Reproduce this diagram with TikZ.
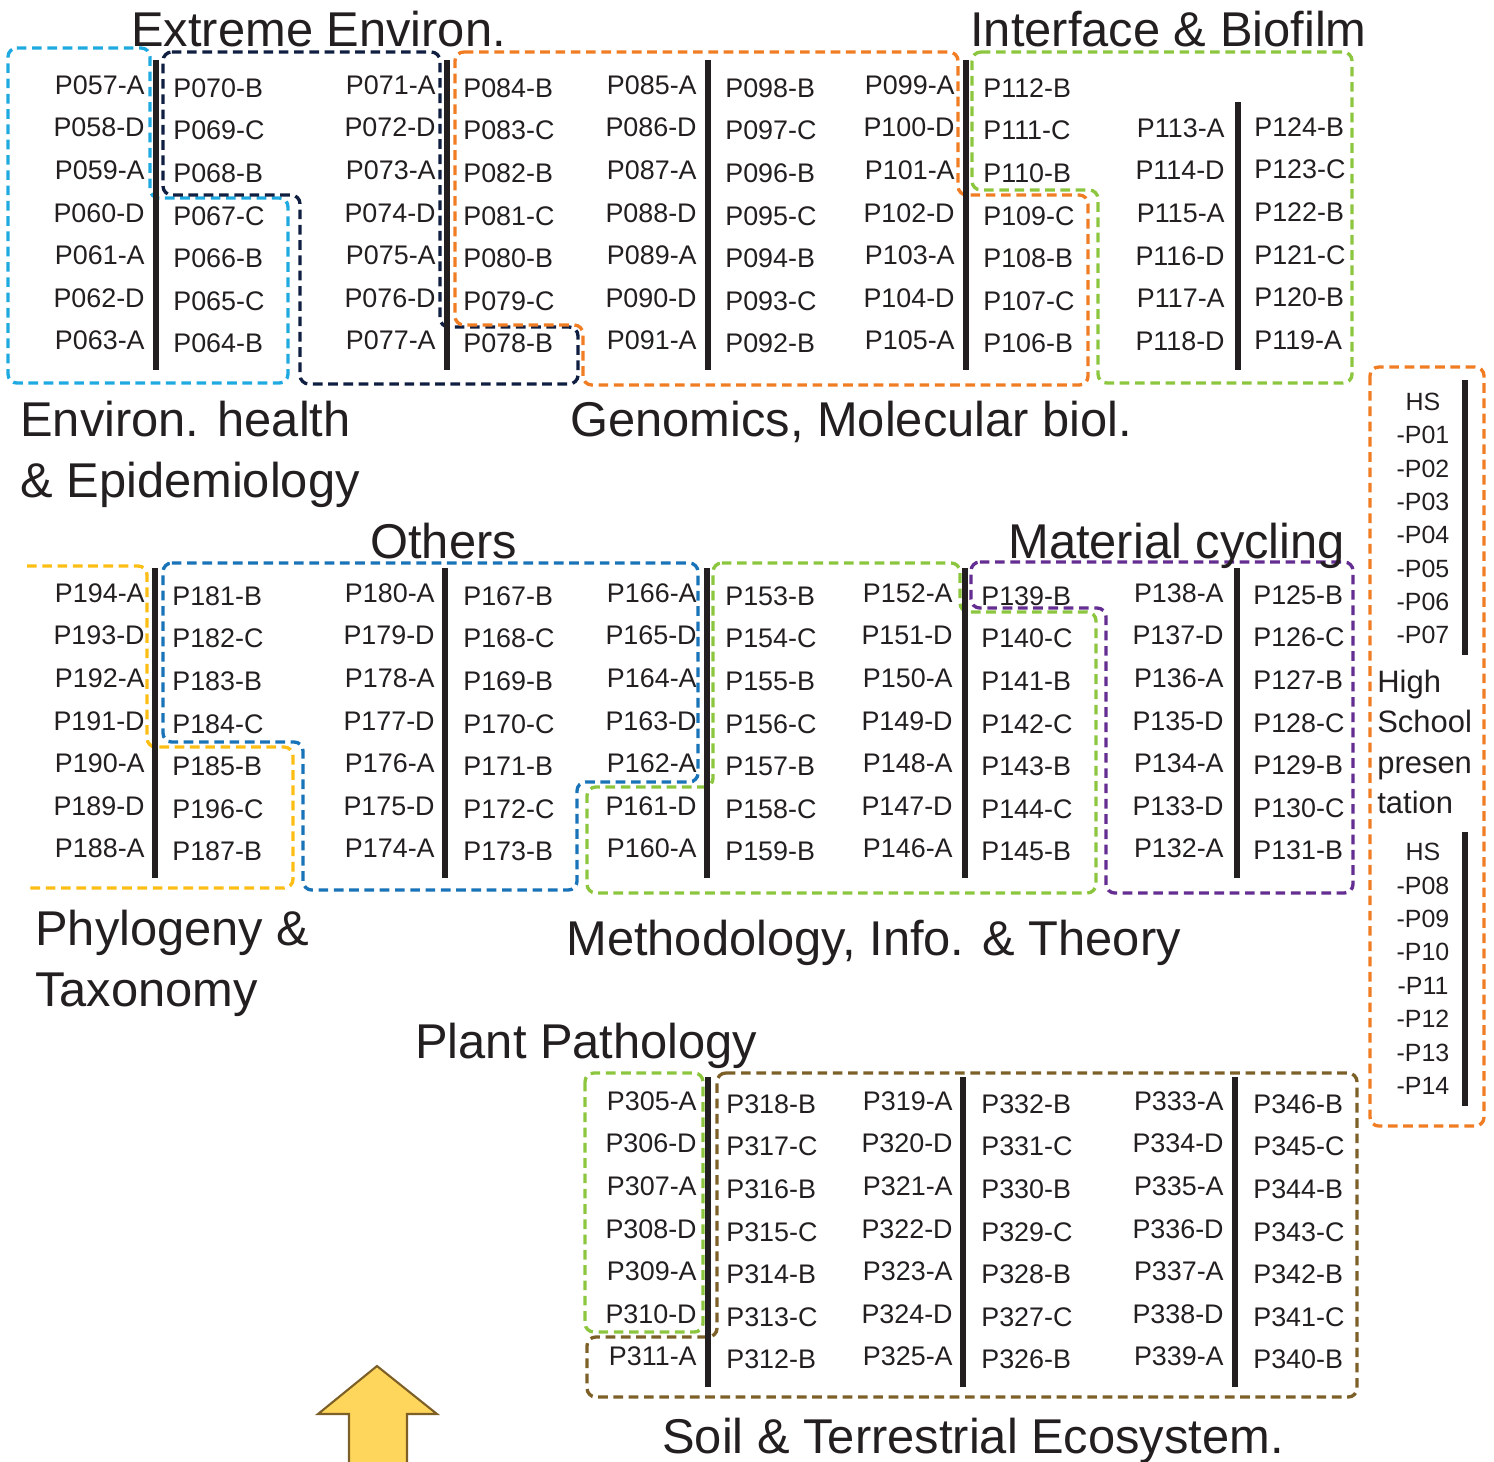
\documentclass[tikz,border=0pt]{standalone}
\usepackage{fontspec}
\setmainfont{Liberation Sans}
\usetikzlibrary{positioning}
\definecolor{postertext}{RGB}{35,31,32}
\definecolor{posterskyblue}{RGB}{30,170,225}
\definecolor{posternavy}{RGB}{15,30,65}
\definecolor{posterorange}{RGB}{240,125,35}
\definecolor{postergreen}{RGB}{140,198,63}
\definecolor{posteryellow}{RGB}{252,190,20}
\definecolor{posterblue}{RGB}{25,115,185}
\definecolor{posterpurple}{RGB}{100,45,145}
\definecolor{posterbrown}{RGB}{125,95,40}
\definecolor{arrowfill}{RGB}{255,214,92}
\tikzset{
    plab/.style={inner sep=0pt, text=postertext, font=\fontsize{15.3}{18}\selectfont},
    hslab/.style={inner sep=0pt, text=postertext, font=\fontsize{14.2}{17}\selectfont},
    hstitle/.style={inner sep=0pt, anchor=base west, text=postertext, font=\fontsize{17.6}{21}\selectfont},
    grouptitle/.style={inner sep=0pt, anchor=base west, text=postertext, font=\fontsize{27.8}{33}\selectfont},
    sessionbar/.style={line width=3.1pt, draw=postertext},
    groupline/.style={line width=1.9pt, dash pattern=on 5.5pt off 3.2pt, rounded corners=5pt},
}
% one column of poster numbers: name, x, first y, anchor, list
\newcommand{\postercol}[5]{%
    \foreach \lab [count=\i] in {#5}
        \node[plab, anchor=#4] (#1-\i) at (#2, {#3+(\i-1)*42.6}) {\lab};}

\begin{document}
\begin{tikzpicture}[x=0.02cm, y=-0.02cm]
    \useasboundingbox (0,0) rectangle (1494,1461);

    % group outlines
    \draw[groupline, posterskyblue] (8,48) -- (150,48) -- (150,198) -- (288,198) -- (288,383) -- (8,383) -- cycle;
    \draw[groupline, posternavy] (163,52) -- (440,52) -- (440,327) -- (578,327) -- (578,384) -- (300,384) -- (300,195) -- (163,195) -- cycle;
    \draw[groupline, posterorange] (455,52) -- (958,52) -- (958,195) -- (1088,195) -- (1088,385) -- (583,385) -- (583,325) -- (455,325) -- cycle;
    \draw[groupline, postergreen] (972,52) -- (1352,52) -- (1352,383) -- (1098,383) -- (1098,190) -- (972,190) -- cycle;
    \draw[groupline, posteryellow] (27,566) -- (147,566) -- (147,747) -- (293,747) -- (293,888) -- (27,888);
    \draw[groupline, posterblue] (163,563) -- (698,563) -- (698,782) -- (577,782) -- (577,890) -- (303,890) -- (303,742) -- (163,742) -- cycle;
    \draw[groupline, postergreen] (713,563) -- (960,563) -- (960,612) -- (1096,612) -- (1096,893) -- (587,893) -- (587,787) -- (713,787) -- cycle;
    \draw[groupline, posterpurple] (971,562) -- (1353,562) -- (1353,893) -- (1106,893) -- (1106,608) -- (971,608) -- cycle;
    \draw[groupline, postergreen] (585,1073) rectangle (703,1332);
    \draw[groupline, posterbrown] (717,1073) -- (1357,1073) -- (1357,1397) -- (587,1397) -- (587,1337) -- (717,1337) -- cycle;
    \draw[groupline, posterorange] (1370,367) rectangle (1484,1126);

    % session bars
    \foreach \bx in {156,447,708,966}
        \draw[sessionbar] (\bx,60) -- (\bx,370);
    \draw[sessionbar] (1238,102) -- (1238,370);
    \foreach \bx in {155,445,707,965,1237}
        \draw[sessionbar] (\bx,568) -- (\bx,878);
    \foreach \bx in {708,963,1235}
        \draw[sessionbar] (\bx,1077) -- (\bx,1387);
    \draw[sessionbar] (1465,380) -- (1465,655);
    \draw[sessionbar] (1465,832) -- (1465,1106);

    % top block
    \postercol{t1}{145}{85}{east}{P057-A,P058-D,P059-A,P060-D,P061-A,P062-D,P063-A}
    \postercol{t2}{173}{88}{west}{P070-B,P069-C,P068-B,P067-C,P066-B,P065-C,P064-B}
    \postercol{t3}{436}{85}{east}{P071-A,P072-D,P073-A,P074-D,P075-A,P076-D,P077-A}
    \postercol{t4}{463}{88}{west}{P084-B,P083-C,P082-B,P081-C,P080-B,P079-C,P078-B}
    \postercol{t5}{697}{85}{east}{P085-A,P086-D,P087-A,P088-D,P089-A,P090-D,P091-A}
    \postercol{t6}{725}{88}{west}{P098-B,P097-C,P096-B,P095-C,P094-B,P093-C,P092-B}
    \postercol{t7}{955}{85}{east}{P099-A,P100-D,P101-A,P102-D,P103-A,P104-D,P105-A}
    \postercol{t8}{983}{88}{west}{P112-B,P111-C,P110-B,P109-C,P108-B,P107-C,P106-B}
    \postercol{t9}{1225}{128}{east}{P113-A,P114-D,P115-A,P116-D,P117-A,P118-D}
    \postercol{t10}{1254}{127}{west}{P124-B,P123-C,P122-B,P121-C,P120-B,P119-A}

    % middle block
    \postercol{m1}{145}{593}{east}{P194-A,P193-D,P192-A,P191-D,P190-A,P189-D,P188-A}
    \postercol{m2}{172}{596}{west}{P181-B,P182-C,P183-B,P184-C,P185-B,P196-C,P187-B}
    \postercol{m3}{435}{593}{east}{P180-A,P179-D,P178-A,P177-D,P176-A,P175-D,P174-A}
    \postercol{m4}{463}{596}{west}{P167-B,P168-C,P169-B,P170-C,P171-B,P172-C,P173-B}
    \postercol{m5}{697}{593}{east}{P166-A,P165-D,P164-A,P163-D,P162-A,P161-D,P160-A}
    \postercol{m6}{725}{596}{west}{P153-B,P154-C,P155-B,P156-C,P157-B,P158-C,P159-B}
    \postercol{m7}{953}{593}{east}{P152-A,P151-D,P150-A,P149-D,P148-A,P147-D,P146-A}
    \postercol{m8}{981}{596}{west}{P139-B,P140-C,P141-B,P142-C,P143-B,P144-C,P145-B}
    \postercol{m9}{1224}{593}{east}{P138-A,P137-D,P136-A,P135-D,P134-A,P133-D,P132-A}
    \postercol{m10}{1253}{595}{west}{P125-B,P126-C,P127-B,P128-C,P129-B,P130-C,P131-B}

    % bottom block
    \postercol{b5}{697}{1101}{east}{P305-A,P306-D,P307-A,P308-D,P309-A,P310-D,P311-A}
    \postercol{b6}{726}{1104}{west}{P318-B,P317-C,P316-B,P315-C,P314-B,P313-C,P312-B}
    \postercol{b7}{953}{1101}{east}{P319-A,P320-D,P321-A,P322-D,P323-A,P324-D,P325-A}
    \postercol{b8}{981}{1104}{west}{P332-B,P331-C,P330-B,P329-C,P328-B,P327-C,P326-B}
    \postercol{b9}{1224}{1101}{east}{P333-A,P334-D,P335-A,P336-D,P337-A,P338-D,P339-A}
    \postercol{b10}{1253}{1104}{west}{P346-B,P345-C,P344-B,P343-C,P342-B,P341-C,P340-B}

    % high school posters
    \foreach \lab [count=\i] in {HS,-P01,-P02,-P03,-P04,-P05,-P06,-P07}
        \node[hslab] (hsa-\i) at (1423, {402+(\i-1)*33.3}) {\lab};
    \foreach \lab [count=\i] in {HS,-P08,-P09,-P10,-P11,-P12,-P13,-P14}
        \node[hslab] (hsb-\i) at (1423, {852+(\i-1)*33.4}) {\lab};
    \foreach \lab [count=\i] in {High,School,presen,tation}
        \node[hstitle] (hst-\i) at (1377, {692+(\i-1)*40.5}) {\lab};

    % group titles
    \node[grouptitle] (t-extreme) at (131,46) {Extreme Environ.};
    \node[grouptitle] (t-interface) at (970,46) {Interface \& Biofilm};
    \node[grouptitle] (t-health) at (20,436) {Environ. health};
    \node[grouptitle] (t-epid) at (20,497) {\& Epidemiology};
    \node[grouptitle] (t-genomics) at (570,436) {Genomics, Molecular biol.};
    \node[grouptitle] (t-others) at (370,558) {Others};
    \node[grouptitle] (t-material) at (1008,558) {Material cycling};
    \node[grouptitle] (t-phylo) at (35,945) {Phylogeny \&};
    \node[grouptitle] (t-taxo) at (35,1006) {Taxonomy};
    \node[grouptitle] (t-method) at (566,955) {Methodology, Info. \& Theory};
    \node[grouptitle] (t-plant) at (415,1058) {Plant Pathology};
    \node[grouptitle] (t-soil) at (662,1453) {Soil \& Terrestrial Ecosystem.};

    % entrance arrow
    \draw[posterbrown, fill=arrowfill, line width=1.2pt, line join=miter]
        (377,1366) -- (437,1414) -- (407,1414) -- (407,1475) -- (349,1475) -- (349,1414) -- (318,1414) -- cycle;
\end{tikzpicture}
\end{document}
